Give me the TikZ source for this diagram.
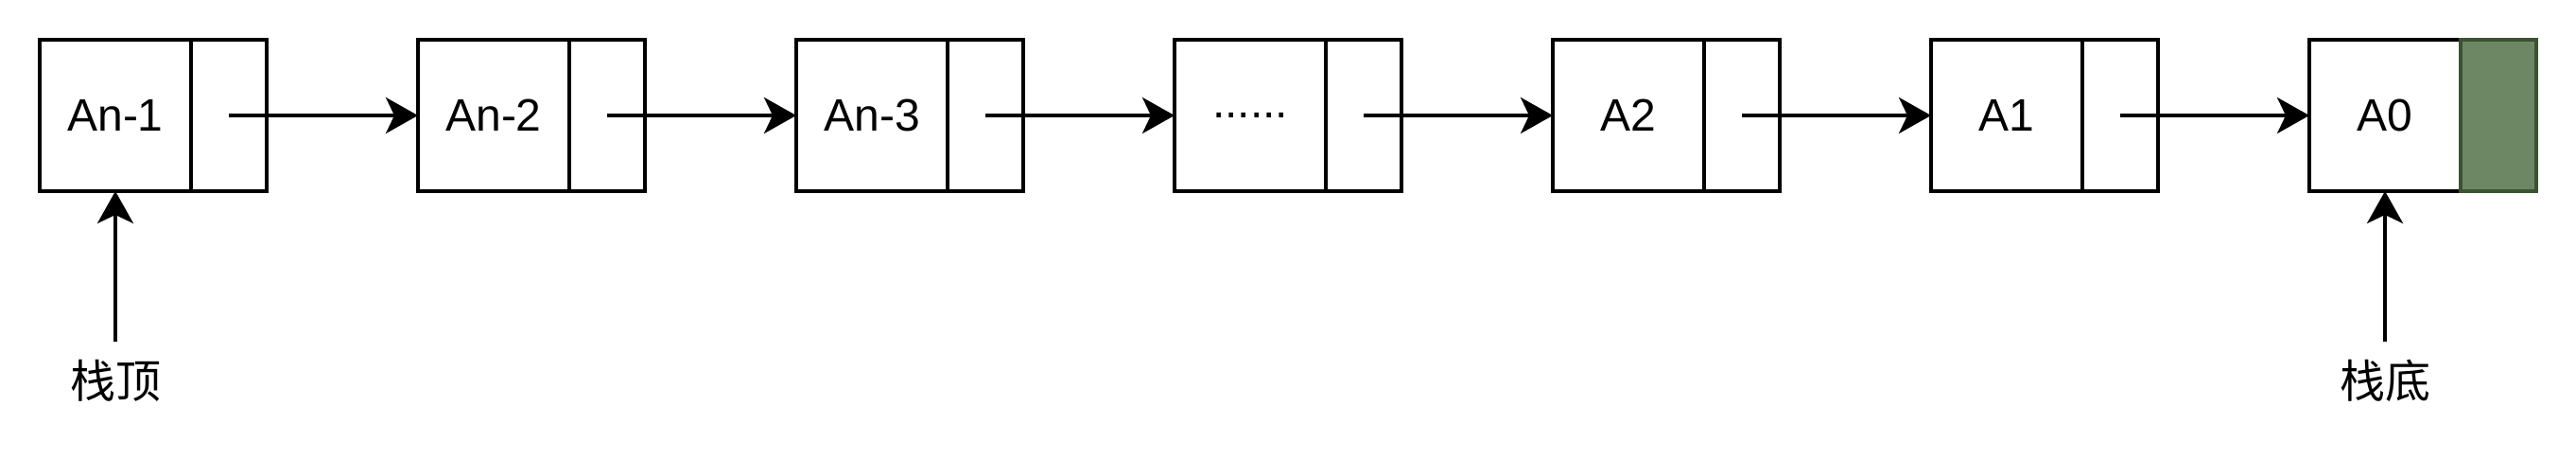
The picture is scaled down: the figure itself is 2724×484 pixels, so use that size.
\documentclass[tikz,border=0pt]{standalone}
\usepackage{fontspec}
\setmainfont{Liberation Sans}
\newfontfamily\cjk{Noto Sans CJK SC}
\usepackage{tikz}
\usetikzlibrary{positioning, arrows.meta}
\definecolor{nullfill}{HTML}{6D8764}
\definecolor{nulldraw}{HTML}{3A5431}
\tikzset{
x=0.5pt, y=-0.5pt, % one unit is one pixel of the picture, y goes down
node distance=80pt, % gap between the pointer part of one cell and the next cell
data/.style={draw, line width=2pt, outer sep=0pt, minimum width=80pt, minimum height=80pt, font=\fontsize{24}{28}\selectfont}, % the part that holds the value
pointer/.style={draw, line width=2pt, outer sep=0pt, minimum width=40pt, minimum height=80pt}, % the part that holds the next pointer
link/.style={line width=2pt, -{Stealth[length=17pt, width=19pt, inset=4.5pt]}}, % arrows between cells
tag/.style={font=\cjk\fontsize{24}{28}\selectfont}, % texts under the stack
}
\begin{document}
\begin{tikzpicture}
        \useasboundingbox (0,0) rectangle (2724,484);
        %% The cells of the list, each one is a value part with a pointer part right of it
        \node[data] (an1) at (122,122) {An-1};
        \node[pointer, right=0pt of an1] (pn1) {};
        \node[data, right=of pn1] (an2) {An-2};
        \node[pointer, right=0pt of an2] (pn2) {};
        \node[data, right=of pn2] (an3) {An-3};
        \node[pointer, right=0pt of an3] (pn3) {};
        \node[data, right=of pn3] (adots) {......};
        \node[pointer, right=0pt of adots] (pdots) {};
        \node[data, right=of pdots] (a2) {A2};
        \node[pointer, right=0pt of a2] (p2) {};
        \node[data, right=of p2] (a1) {A1};
        \node[pointer, right=0pt of a1] (p1) {};
        \node[data, right=of p1] (a0) {A0};
        %% The last pointer is empty, so it is filled in green
        \node[pointer, right=0pt of a0, fill=nullfill, draw=nulldraw] (p0) {};
        %% Links from each pointer to the next cell
        \foreach \from/\to in {pn1/an2, pn2/an3, pn3/adots, pdots/a2, p2/a1, p1/a0}
            \draw[link] (\from.center) -- (\to.west);
        %% Top and bottom of the stack
        \node[tag] (top) at (122,402) {栈顶};
        \node[tag] (bottom) at (2522,402) {栈底};
        \coordinate (toptail) at (122,361);
        \coordinate (bottomtail) at (2522,361);
        \draw[link] (toptail) -- (an1.south);
        \draw[link] (bottomtail) -- (a0.south);
    \end{tikzpicture}
\end{document}
